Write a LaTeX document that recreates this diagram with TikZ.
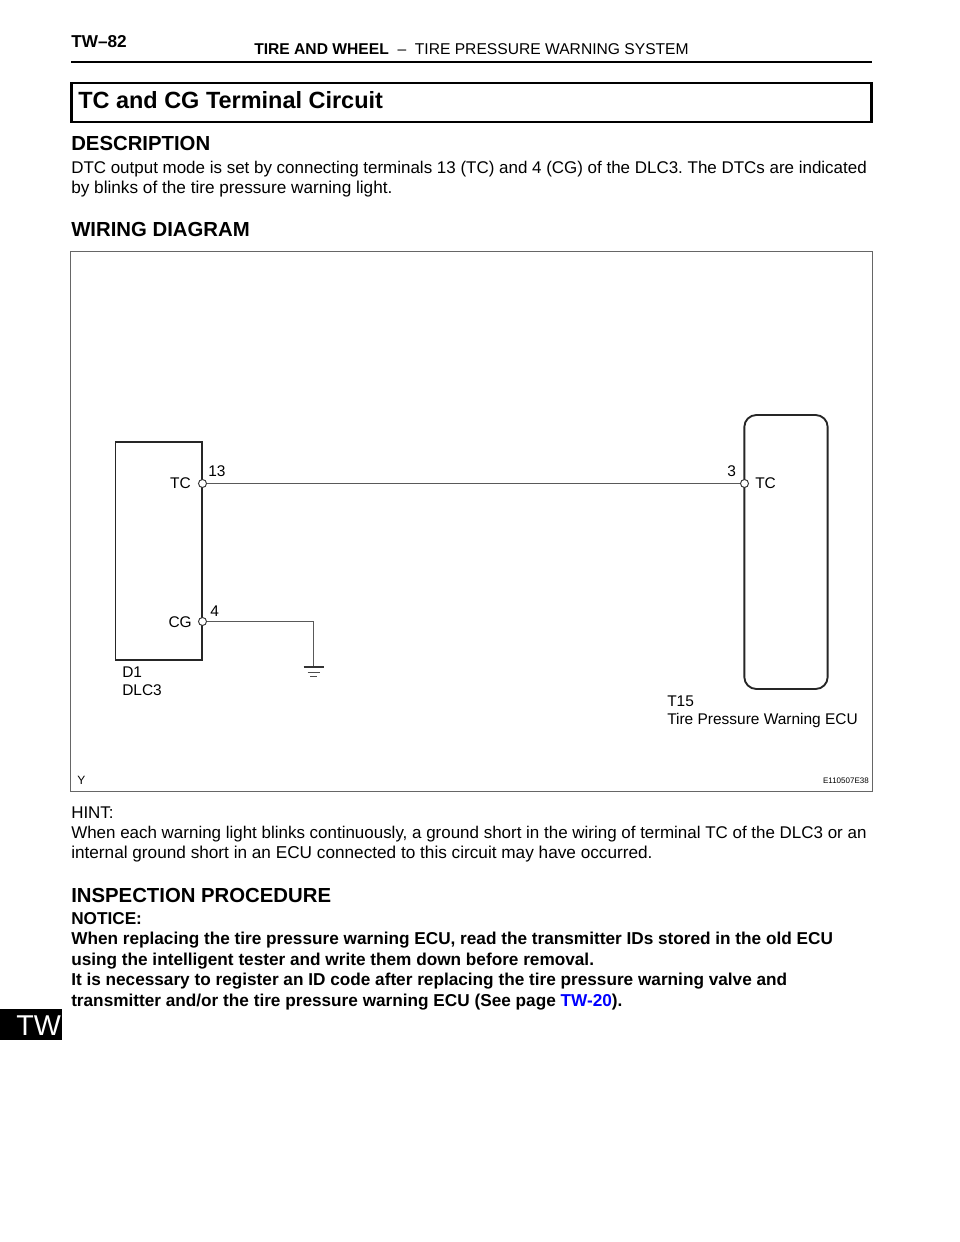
\documentclass[tikz,border=0pt]{standalone}
\usepackage{fontspec}
\setmainfont{Liberation Sans}
\usetikzlibrary{positioning}
\frenchspacing

\begin{document}
\begin{tikzpicture}[x=.75pt, y=-.75pt,
txt/.style={anchor=base west, inner sep=0pt, font=\fontsize{12.72}{14}\selectfont},
%
txtwide/.style={txt, font=\fontsize{12.9}{14}\selectfont},
%
txtbold/.style={txt, font=\fontsize{12.9}{14}\selectfont\bfseries},
%
heading/.style={txt, font=\fontsize{15.25}{18}\selectfont\bfseries},
%
label/.style={txt, font=\fontsize{11.6}{14}\selectfont},
%
unit/.style={draw=black!85, line width=1.4pt, fill=white, inner sep=0pt},
%
port/.style={draw=black!80, circle, fill=white, line width=.7pt,
minimum size=6pt, inner sep=0pt},
%
wire/.style={draw=black!65, line width=.75pt}]

\useasboundingbox (0,0) rectangle (960,1242);

\begin{scope}
  %%%%%%%%%%%%%%%%%%%%%%%%%%%%%%
  \node [txtbold] (page) at (71,47) {TW--82};
  \node [txt, font=\fontsize{11.72}{14}\selectfont] (chapter) at (254,54) {\textbf{TIRE AND WHEEL}\ \ --\ \ TIRE PRESSURE WARNING SYSTEM};
  \coordinate (ruleL) at (71,62);
  \coordinate (ruleR) at (872,62);
  \draw [line width=1.5pt] (ruleL) -- (ruleR);
  \node [draw=black, line width=1.9pt, minimum width=600pt, minimum height=29pt,
  inner sep=0pt] (titlebox) at (471.5,102.5) {};
  \node [heading, font=\fontsize{17.6}{20}\selectfont\bfseries] (title) at (78,108) {TC and CG Terminal Circuit};
  %%%%%%%%%%%%%%%%%%%%%%%%%%%%%%
  \node [heading] (descr) at (71,150) {DESCRIPTION};
  \node [txt] (descr1) at (71,173) {DTC output mode is set by connecting terminals 13 (TC) and 4 (CG) of the DLC3. The DTCs are indicated};
  \node [txtwide] (descr2) at (71,193) {by blinks of the tire pressure warning light.};
  \node [heading] (wiring) at (71,236) {WIRING DIAGRAM};
  %%%%%%%%%%%%%%%%%%%%%%%%%%%%%%
  \node [txt] (hint) at (71,818) {HINT:};
  \node [txt] (hint1) at (71,838) {When each warning light blinks continuously, a ground short in the wiring of terminal TC of the DLC3 or an};
  \node [txtwide] (hint2) at (71,858) {internal ground short in an ECU connected to this circuit may have occurred.};
  \node [heading] (inspect) at (71,902) {INSPECTION PROCEDURE};
  \node [txtbold] (notice) at (71,924) {NOTICE:};
  \node [txtbold] (note1) at (71,944) {When replacing the tire pressure warning ECU, read the transmitter IDs stored in the old ECU};
  \node [txtbold] (note2) at (71,965) {using the intelligent tester and write them down before removal.};
  \node [txtbold] (note3) at (71,985) {It is necessary to register an ID code after replacing the tire pressure warning valve and};
  \node [txtbold] (note4) at (71,1006) {transmitter and/or the tire pressure warning ECU (See page \textcolor{blue}{TW-20}).};
  %%%%%%%%%%%%%%%%%%%%%%%%%%%%%%
  \node [fill=black, minimum width=46.5pt, minimum height=23.5pt, inner sep=0pt] (tab) at (31,1024.5) {};
  \node [txt, text=white, font=\fontsize{21.5}{26}\selectfont] (tabtext) at (16,1035) {TW};
\end{scope}

\begin{scope}
  \node [draw=black!60, line width=.9pt, minimum width=602pt, minimum height=405.5pt,
  inner sep=0pt] (frame) at (471.5,521.5) {};
  %%%%%%%%%%%%%%%%%%%%%%%%%%%%%%
  \node [unit, minimum width=65pt, minimum height=164pt] (dlc) at (158.8,551) {};
  \node [unit, rounded corners=9pt, minimum width=62.5pt, minimum height=205.5pt] (ecu) at (786,552) {};
  \node [port] (dlcTC) at (202.5,483.5) {};
  \node [port] (dlcCG) at (202.5,621.5) {};
  \node [port] (ecuTC) at (744.5,483.5) {};
  \coordinate (gnd) at (313.5,667);
  %%%%%%%%%%%%%%%%%%%%%%%%%%%%%%
  \draw [wire] (dlcTC) -- (ecuTC);
  \draw [wire] (dlcCG) -| (gnd);
  \draw [black!80, line width=1.1pt] ([xshift=-7.5pt]gnd) -- ([xshift=7.5pt]gnd);
  \draw [black!70, line width=.7pt] ([xshift=-4.5pt,yshift=-3.8pt]gnd) -- ([xshift=4.5pt,yshift=-3.8pt]gnd);
  \draw [black!70, line width=.7pt] ([xshift=-2.5pt,yshift=-7pt]gnd) -- ([xshift=2.5pt,yshift=-7pt]gnd);
  %%%%%%%%%%%%%%%%%%%%%%%%%%%%%%
  \node [label, anchor=base east] (tcL) at (191,488.5) {TC};
  \node [label, anchor=base east] (cgL) at (192,627) {CG};
  \node [label] (pin13) at (208,476) {13};
  \node [label] (pin4) at (210,616) {4};
  \node [label] (d1) at (122,677) {D1};
  \node [label] (dlcname) at (122,695) {DLC3};
  \node [label] (pin3) at (727,476) {3};
  \node [label] (tcR) at (755,488.5) {TC};
  \node [label] (t15) at (667,706) {T15};
  \node [label] (ecuname) at (667,724) {Tire Pressure Warning ECU};
  \node [label, font=\fontsize{9}{10}\selectfont] (corner) at (77,784) {Y};
  \node [label, anchor=base east, font=\fontsize{6}{7}\selectfont] (code) at (869,783) {E110507E38};
\end{scope}

\end{tikzpicture}
\end{document}
